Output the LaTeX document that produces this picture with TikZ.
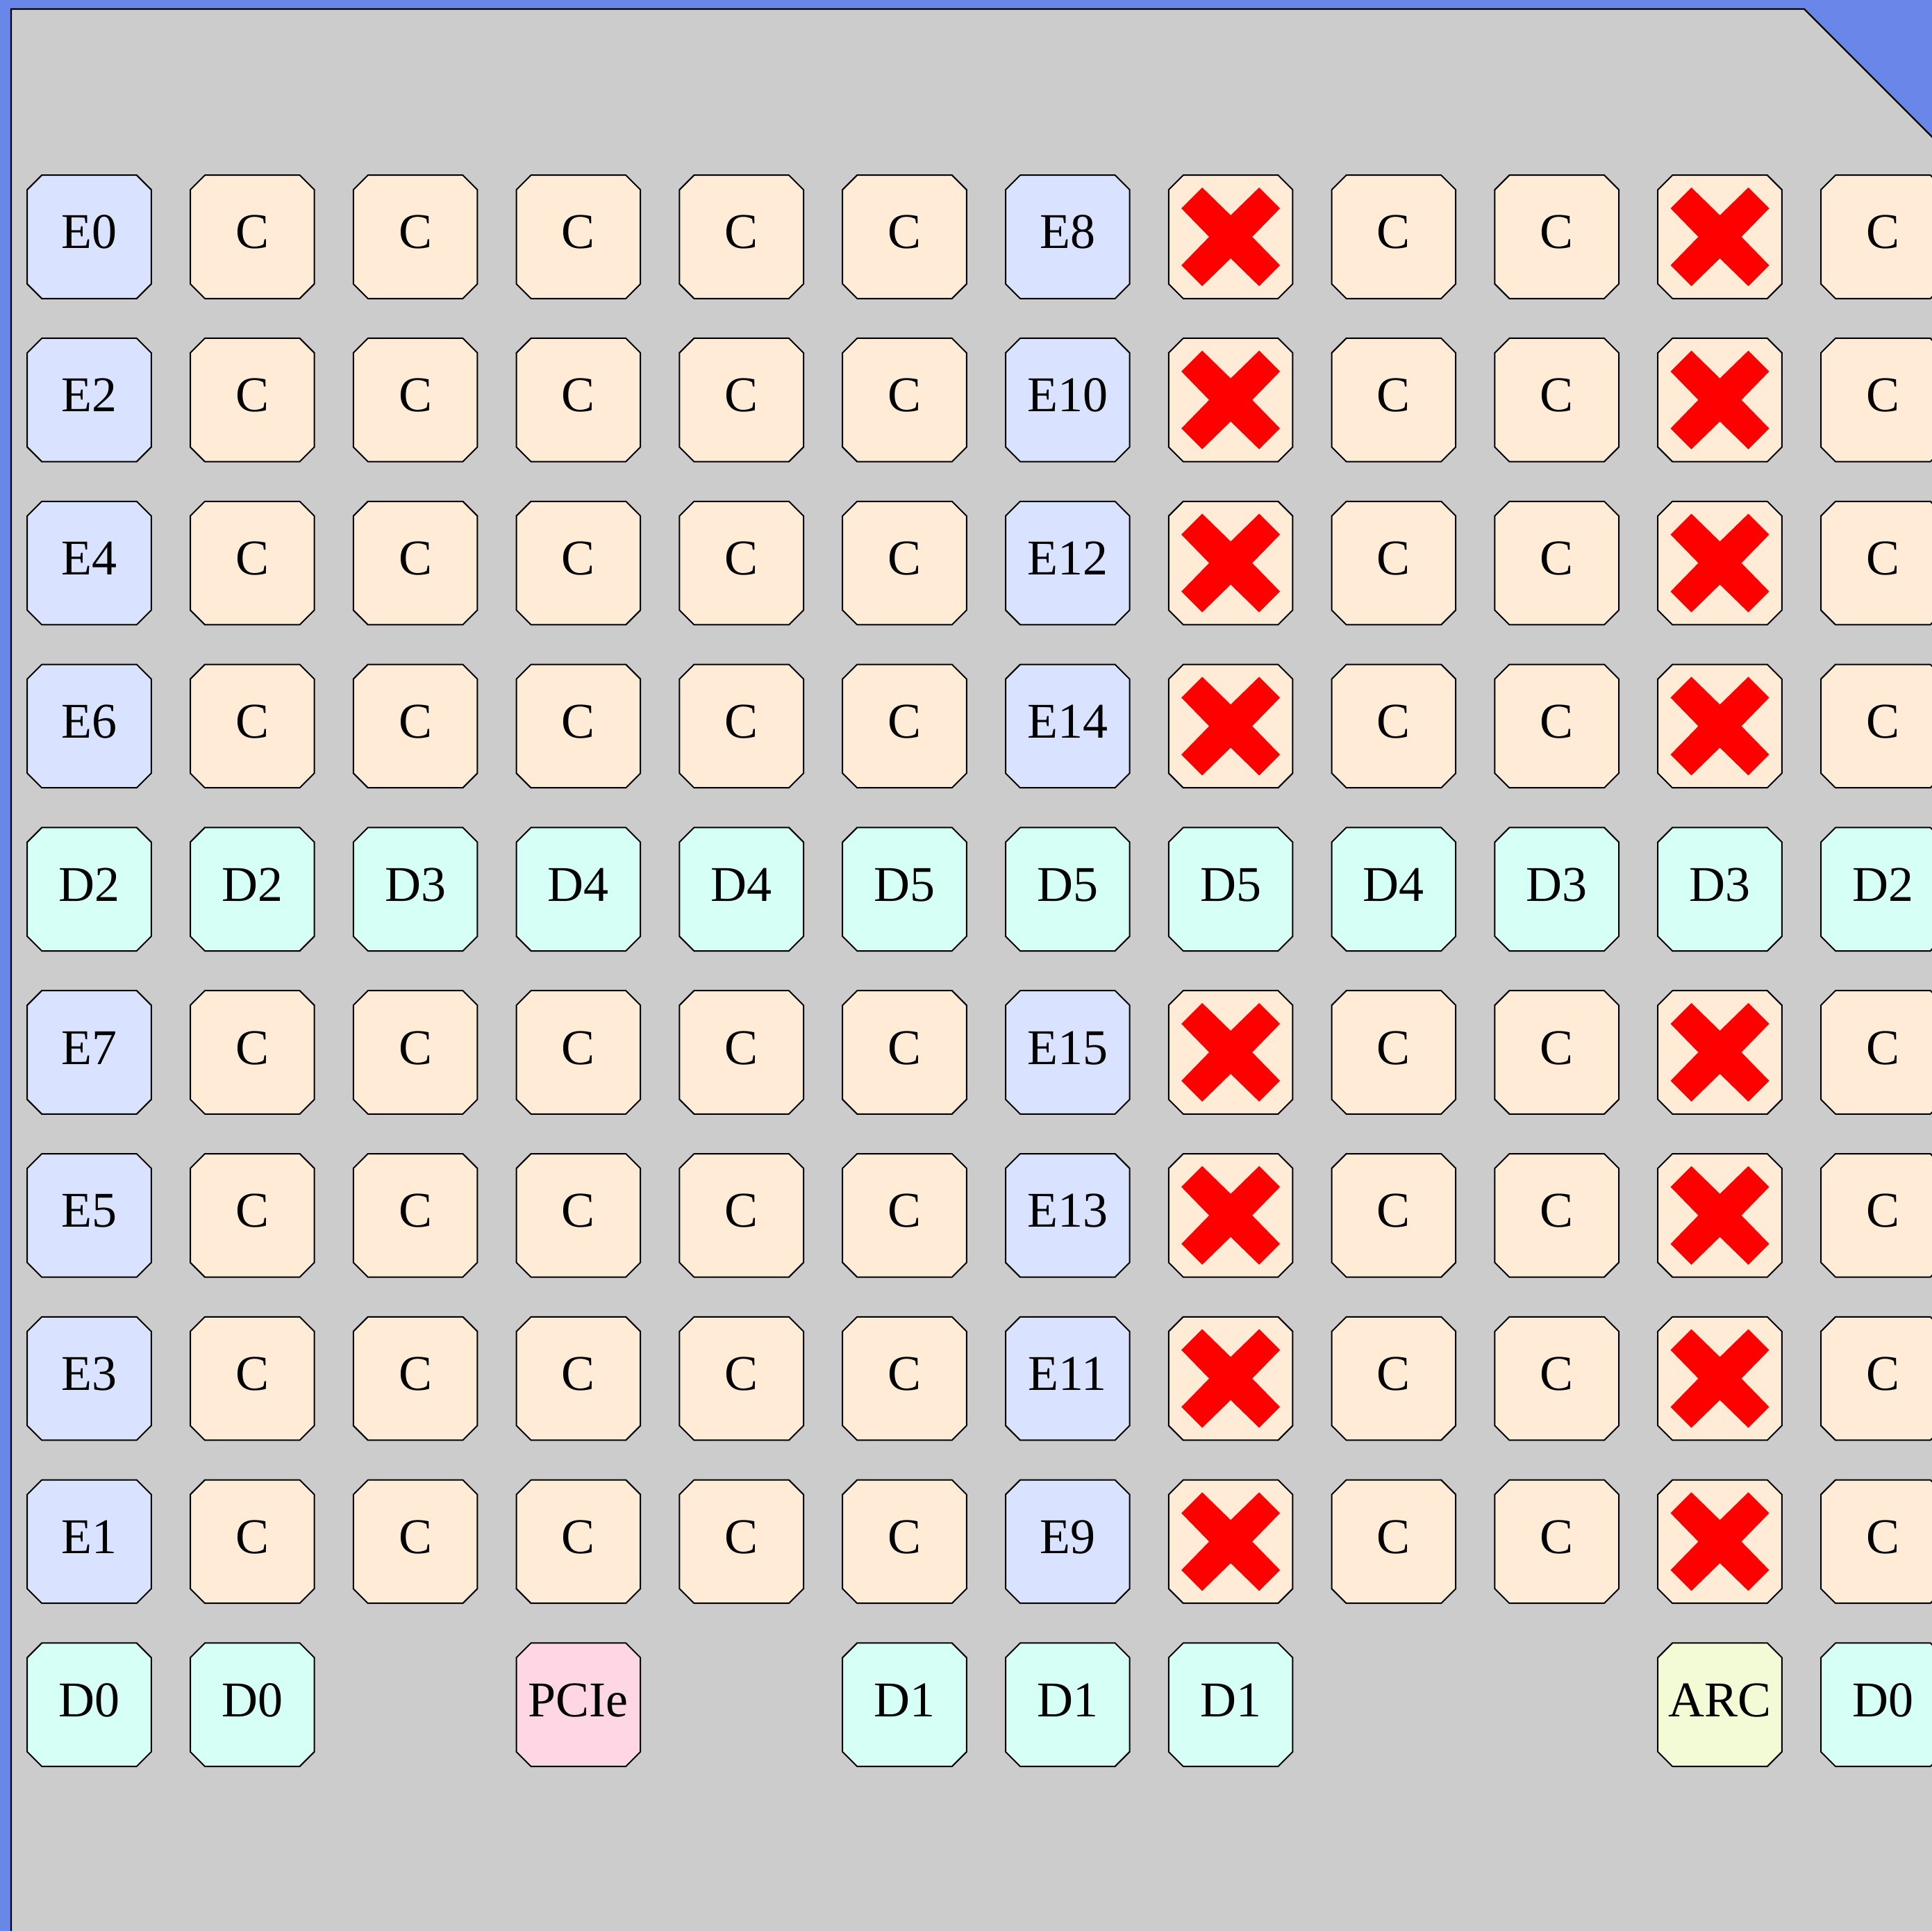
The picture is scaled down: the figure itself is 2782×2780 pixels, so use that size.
\documentclass[tikz,border=0pt]{standalone}
\usepackage{fontspec}
\setmainfont{Liberation Serif}
\usetikzlibrary{calc}
\definecolor{bgblue}{HTML}{6987E8}
\definecolor{panelgrey}{HTML}{CCCCCC}
\definecolor{ecol}{HTML}{D9E3FF}
\definecolor{ccol}{HTML}{FFEBD6}
\definecolor{dcol}{HTML}{D6FFF5}
\definecolor{pcol}{HTML}{FFD6E3}
\definecolor{acol}{HTML}{F2FAD6}
\definecolor{crossred}{HTML}{FF0000}
\tikzset{
  cellbox/.style={draw=none,inner sep=0pt,minimum width=44.25pt,minimum height=44pt},
  cellline/.style={draw=black,line width=0.5pt,line join=miter},
  celltext/.style={anchor=base,inner sep=0pt,font=\fontsize{18}{22}\selectfont},
  panel/.style={fill=panelgrey,draw=black,line width=0.6pt},
}
\newcommand\chipcell[5]{%
  \node[cellbox] (#1) at ({128.5+234.8*#2},{341+234.8*#3}) {};
  \filldraw[cellline,fill=#4]
    ($(#1.north west)+(21,0)$) -- ($(#1.north east)+(-21,0)$) --
    ($(#1.north east)+(0,21)$) -- ($(#1.south east)+(0,-21)$) --
    ($(#1.south east)+(-21,0)$) -- ($(#1.south west)+(21,0)$) --
    ($(#1.south west)+(0,-21)$) -- ($(#1.north west)+(0,21)$) -- cycle;
  \node[celltext] (#1-t) at ($(#1.center)+(0,17)$) {#5};
}
\newcommand\crosscell[3]{%
  \node[cellbox] (#1) at ({128.5+234.8*#2},{341+234.8*#3}) {};
  \filldraw[cellline,fill=ccol]
    ($(#1.north west)+(21,0)$) -- ($(#1.north east)+(-21,0)$) --
    ($(#1.north east)+(0,21)$) -- ($(#1.south east)+(0,-21)$) --
    ($(#1.south east)+(-21,0)$) -- ($(#1.south west)+(21,0)$) --
    ($(#1.south west)+(0,-21)$) -- ($(#1.north west)+(0,21)$) -- cycle;
  \fill[crossred,shift={(#1.center)}] (-71,-41) -- (-41,-71) -- (0,-31) -- (41,-71) -- (71,-41) -- (31,0) -- (71,41) -- (41,71) -- (0,31) -- (-41,71) -- (-71,41) -- (-31,0) -- cycle;
}
\begin{document}
\begin{tikzpicture}[x=0.25pt,y=-0.25pt]
\useasboundingbox (0,0) rectangle (2782,2780);
\clip (0,0) rectangle (2782,2780);
\fill[bgblue] (0,0) rectangle (2782,2780);
\filldraw[panel] (16,13) -- (2598,13) -- (3000,415) -- (3000,3000) -- (16,3000) -- cycle;
% E columns
\foreach \t [count=\r from 0] in {E0,E2,E4,E6} {\chipcell{e0-\r}{0}{\r}{ecol}{\t}}
\foreach \t [count=\r from 5] in {E7,E5,E3,E1} {\chipcell{e0-\r}{0}{\r}{ecol}{\t}}
\foreach \t [count=\r from 0] in {E8,E10,E12,E14} {\chipcell{e6-\r}{6}{\r}{ecol}{\t}}
\foreach \t [count=\r from 5] in {E15,E13,E11,E9} {\chipcell{e6-\r}{6}{\r}{ecol}{\t}}
% C cells
\foreach \c in {1,2,3,4,5,8,9,11} {
  \foreach \r in {0,1,2,3,5,6,7,8} {\chipcell{c\c-\r}{\c}{\r}{ccol}{C}}
}
% crossed-out cells
\foreach \c in {7,10} {
  \foreach \r in {0,1,2,3,5,6,7,8} {\crosscell{x\c-\r}{\c}{\r}}
}
% D row
\foreach \t [count=\c from 0] in {D2,D2,D3,D4,D4,D5,D5,D5,D4,D3,D3,D2} {\chipcell{d\c-4}{\c}{4}{dcol}{\t}}
% bottom row
\chipcell{b0}{0}{9}{dcol}{D0}
\chipcell{b1}{1}{9}{dcol}{D0}
\chipcell{b3}{3}{9}{pcol}{PCIe}
\chipcell{b5}{5}{9}{dcol}{D1}
\chipcell{b6}{6}{9}{dcol}{D1}
\chipcell{b7}{7}{9}{dcol}{D1}
\chipcell{b10}{10}{9}{acol}{ARC}
\chipcell{b11}{11}{9}{dcol}{D0}
\end{tikzpicture}
\end{document}
